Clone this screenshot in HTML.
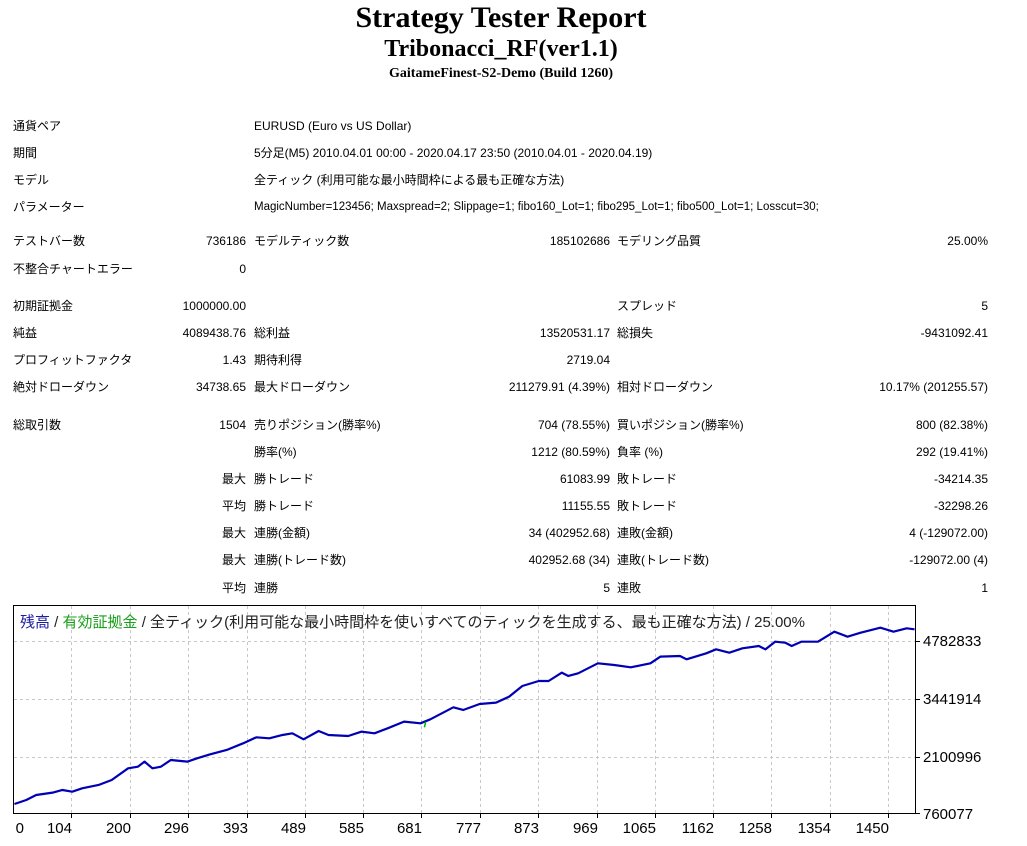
<!DOCTYPE html>
<html><head><meta charset="utf-8"><style>
body{margin:0;width:1027px;height:846px;background:#fff;position:relative;overflow:hidden;font-family:"Liberation Sans","Noto Sans CJK JP",sans-serif;font-size:12px;color:#000}
.t{position:absolute;white-space:nowrap;line-height:14px}
.r{text-align:right}
.h{position:absolute;left:0;width:1002px;text-align:center;font-family:"Liberation Serif",serif;font-weight:bold;white-space:nowrap}
.x{position:absolute;top:820px;width:40px;text-align:right;font-size:15px;line-height:18px}
</style></head><body>
<div class="h" style="top:2px;font-size:30px;line-height:32px">Strategy Tester Report</div>
<div class="h" style="top:36px;font-size:24px;line-height:26px">Tribonacci_RF(ver1.1)</div>
<div class="h" style="top:66px;font-size:14px;line-height:16px">GaitameFinest-S2-Demo (Build 1260)</div>

<div class="t" style="left:13px;top:119px">通貨ペア</div><div class="t" style="left:254px;top:119px">EURUSD (Euro vs US Dollar)</div>
<div class="t" style="left:13px;top:146px">期間</div><div class="t" style="left:254px;top:146px">5分足(M5) 2010.04.01 00:00 - 2020.04.17 23:50 (2010.04.01 - 2020.04.19)</div>
<div class="t" style="left:13px;top:173px">モデル</div><div class="t" style="left:254px;top:173px">全ティック (利用可能な最小時間枠による最も正確な方法)</div>
<div class="t" style="left:13px;top:200px">パラメーター</div><div class="t" style="left:254px;top:200px;font-size:11.5px">MagicNumber=123456; Maxspread=2; Slippage=1; fibo160_Lot=1; fibo295_Lot=1; fibo500_Lot=1; Losscut=30;</div>

<div class="t" style="left:13px;top:234px">テストバー数</div><div class="t r" style="right:781px;top:234px">736186</div>
<div class="t" style="left:254px;top:234px">モデルティック数</div><div class="t r" style="right:417px;top:234px">185102686</div>
<div class="t" style="left:617px;top:234px">モデリング品質</div><div class="t r" style="right:39px;top:234px">25.00%</div>
<div class="t" style="left:13px;top:262px">不整合チャートエラー</div><div class="t r" style="right:781px;top:262px">0</div>

<div class="t" style="left:13px;top:299px">初期証拠金</div><div class="t r" style="right:781px;top:299px">1000000.00</div>
<div class="t" style="left:617px;top:299px">スプレッド</div><div class="t r" style="right:39px;top:299px">5</div>
<div class="t" style="left:13px;top:326px">純益</div><div class="t r" style="right:781px;top:326px">4089438.76</div>
<div class="t" style="left:254px;top:326px">総利益</div><div class="t r" style="right:417px;top:326px">13520531.17</div>
<div class="t" style="left:617px;top:326px">総損失</div><div class="t r" style="right:39px;top:326px">-9431092.41</div>
<div class="t" style="left:13px;top:353px">プロフィットファクタ</div><div class="t r" style="right:781px;top:353px">1.43</div>
<div class="t" style="left:254px;top:353px">期待利得</div><div class="t r" style="right:417px;top:353px">2719.04</div>
<div class="t" style="left:13px;top:380px">絶対ドローダウン</div><div class="t r" style="right:781px;top:380px">34738.65</div>
<div class="t" style="left:254px;top:380px">最大ドローダウン</div><div class="t r" style="right:417px;top:380px">211279.91 (4.39%)</div>
<div class="t" style="left:617px;top:380px">相対ドローダウン</div><div class="t r" style="right:39px;top:380px">10.17% (201255.57)</div>

<div class="t" style="left:13px;top:418px">総取引数</div><div class="t r" style="right:781px;top:418px">1504</div>
<div class="t" style="left:254px;top:418px">売りポジション(勝率%)</div><div class="t r" style="right:417px;top:418px">704 (78.55%)</div>
<div class="t" style="left:617px;top:418px">買いポジション(勝率%)</div><div class="t r" style="right:39px;top:418px">800 (82.38%)</div>
<div class="t" style="left:254px;top:445px">勝率(%)</div><div class="t r" style="right:417px;top:445px">1212 (80.59%)</div>
<div class="t" style="left:617px;top:445px">負率 (%)</div><div class="t r" style="right:39px;top:445px">292 (19.41%)</div>
<div class="t r" style="right:781px;top:472px">最大</div><div class="t" style="left:254px;top:472px">勝トレード</div><div class="t r" style="right:417px;top:472px">61083.99</div>
<div class="t" style="left:617px;top:472px">敗トレード</div><div class="t r" style="right:39px;top:472px">-34214.35</div>
<div class="t r" style="right:781px;top:499px">平均</div><div class="t" style="left:254px;top:499px">勝トレード</div><div class="t r" style="right:417px;top:499px">11155.55</div>
<div class="t" style="left:617px;top:499px">敗トレード</div><div class="t r" style="right:39px;top:499px">-32298.26</div>
<div class="t r" style="right:781px;top:526px">最大</div><div class="t" style="left:254px;top:526px">連勝(金額)</div><div class="t r" style="right:417px;top:526px">34 (402952.68)</div>
<div class="t" style="left:617px;top:526px">連敗(金額)</div><div class="t r" style="right:39px;top:526px">4 (-129072.00)</div>
<div class="t r" style="right:781px;top:553px">最大</div><div class="t" style="left:254px;top:553px">連勝(トレード数)</div><div class="t r" style="right:417px;top:553px">402952.68 (34)</div>
<div class="t" style="left:617px;top:553px">連敗(トレード数)</div><div class="t r" style="right:39px;top:553px">-129072.00 (4)</div>
<div class="t r" style="right:781px;top:581px">平均</div><div class="t" style="left:254px;top:581px">連勝</div><div class="t r" style="right:417px;top:581px">5</div>
<div class="t" style="left:617px;top:581px">連敗</div><div class="t r" style="right:39px;top:581px">1</div>

<svg style="position:absolute;left:0;top:0" width="1027" height="846">
<g stroke="#c8c8c8" stroke-dasharray="3,3" stroke-width="1">
<line x1="14" x2="915" y1="641.5" y2="641.5"/><line x1="14" x2="915" y1="699.5" y2="699.5"/><line x1="14" x2="915" y1="757.5" y2="757.5"/>
<line x1="71.5" x2="71.5" y1="606" y2="813"/><line x1="130.5" x2="130.5" y1="606" y2="813"/><line x1="188.5" x2="188.5" y1="606" y2="813"/><line x1="247.5" x2="247.5" y1="606" y2="813"/><line x1="305.5" x2="305.5" y1="606" y2="813"/><line x1="363.5" x2="363.5" y1="606" y2="813"/><line x1="421.5" x2="421.5" y1="606" y2="813"/><line x1="480.5" x2="480.5" y1="606" y2="813"/><line x1="538.5" x2="538.5" y1="606" y2="813"/><line x1="597.5" x2="597.5" y1="606" y2="813"/><line x1="655.5" x2="655.5" y1="606" y2="813"/><line x1="713.5" x2="713.5" y1="606" y2="813"/><line x1="771.5" x2="771.5" y1="606" y2="813"/><line x1="830.5" x2="830.5" y1="606" y2="813"/><line x1="888.5" x2="888.5" y1="606" y2="813"/>
</g>
<rect x="13.5" y="605.5" width="902" height="208" fill="none" stroke="#000"/>
<g stroke="#000"><line x1="916" x2="920" y1="641.5" y2="641.5"/><line x1="916" x2="920" y1="699.5" y2="699.5"/><line x1="916" x2="920" y1="757.5" y2="757.5"/><line x1="916" x2="920" y1="813.5" y2="813.5"/>
<g stroke="#000"><line x1="71.5" x2="71.5" y1="814" y2="818"/><line x1="130.5" x2="130.5" y1="814" y2="818"/><line x1="188.5" x2="188.5" y1="814" y2="818"/><line x1="247.5" x2="247.5" y1="814" y2="818"/><line x1="305.5" x2="305.5" y1="814" y2="818"/><line x1="363.5" x2="363.5" y1="814" y2="818"/><line x1="421.5" x2="421.5" y1="814" y2="818"/><line x1="480.5" x2="480.5" y1="814" y2="818"/><line x1="538.5" x2="538.5" y1="814" y2="818"/><line x1="597.5" x2="597.5" y1="814" y2="818"/><line x1="655.5" x2="655.5" y1="814" y2="818"/><line x1="713.5" x2="713.5" y1="814" y2="818"/><line x1="771.5" x2="771.5" y1="814" y2="818"/><line x1="830.5" x2="830.5" y1="814" y2="818"/><line x1="888.5" x2="888.5" y1="814" y2="818"/></g></g>
<g transform="translate(0,600) scale(0.657,0.3333)">
<polyline vector-effect="non-scaling-stroke" fill="none" stroke="#0000b4" stroke-width="2.2" stroke-linejoin="round" points="22,612 40,600 55,585 80,578 95,570 110,575 125,565 150,555 170,540 195,505 210,500 220,485 232,505 245,500 260,480 285,485 300,475 320,463 345,450 370,430 390,412 410,415 430,405 445,400 462,418 485,393 500,405 530,408 550,395 570,400 590,385 615,365 640,370 655,358 690,322 705,330 730,312 755,308 775,290 795,258 820,243 835,243 855,218 865,228 880,220 910,190 935,195 960,202 990,190 1005,170 1035,168 1045,178 1075,160 1090,148 1110,158 1130,145 1155,138 1165,148 1180,125 1195,128 1205,138 1220,125 1245,125 1270,95 1290,110 1310,98 1340,83 1360,95 1380,85 1392,88"/>
<line vector-effect="non-scaling-stroke" x1="648" y1="365" x2="646" y2="382" stroke="#00b000" stroke-width="1.5"/>
</g>
</svg>
<div class="t" style="left:20px;top:613px;font-size:15px;line-height:20px;color:#222"><span style="color:#1c1ca0">残高</span> / <span style="color:#18a018">有効証拠金</span> / 全ティック(利用可能な最小時間枠を使いすべてのティックを生成する、最も正確な方法) / 25.00%</div>
<div class="t" style="left:923px;top:633px;font-size:15px;line-height:18px">4782833</div>
<div class="t" style="left:923px;top:691px;font-size:15px;line-height:18px">3441914</div>
<div class="t" style="left:923px;top:749px;font-size:15px;line-height:18px">2100996</div>
<div class="t" style="left:923px;top:806px;font-size:15px;line-height:18px">760077</div>
<div class="x" style="left:-16px">0</div>
<div class="x" style="left:32px">104</div>
<div class="x" style="left:91px">200</div>
<div class="x" style="left:149px">296</div>
<div class="x" style="left:208px">393</div>
<div class="x" style="left:266px">489</div>
<div class="x" style="left:324px">585</div>
<div class="x" style="left:382px">681</div>
<div class="x" style="left:441px">777</div>
<div class="x" style="left:499px">873</div>
<div class="x" style="left:558px">969</div>
<div class="x" style="left:616px">1065</div>
<div class="x" style="left:674px">1162</div>
<div class="x" style="left:732px">1258</div>
<div class="x" style="left:791px">1354</div>
<div class="x" style="left:849px">1450</div>
</body></html>
